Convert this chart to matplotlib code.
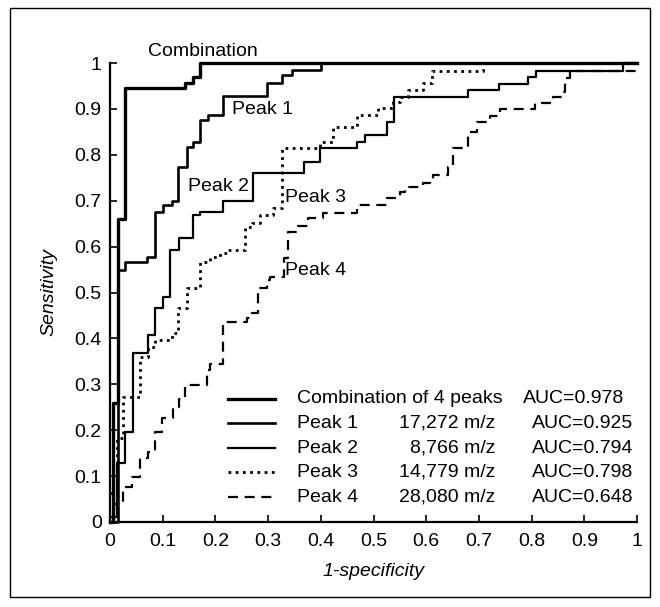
import matplotlib
matplotlib.use("Agg")
import matplotlib.pyplot as plt
from matplotlib.patches import Rectangle

plt.rcParams['font.family'] = ['Liberation Sans', 'DejaVu Sans']

# ROC step points (x = 1-specificity, y = sensitivity), value after each jump
comb_fpr = [0.0, 0.006, 0.015, 0.028, 0.142, 0.158, 0.171, 1.0]
comb_tpr = [0.0, 0.26, 0.66, 0.945, 0.956, 0.969, 1.0, 1.0]

p1_fpr = [0.0, 0.015, 0.028, 0.07, 0.085, 0.10, 0.117, 0.129, 0.146, 0.158, 0.171,
          0.186, 0.215, 0.298, 0.326, 0.345, 0.40, 1.0]
p1_tpr = [0.0, 0.549, 0.567, 0.577, 0.675, 0.69, 0.70, 0.773, 0.817, 0.828, 0.876,
          0.887, 0.928, 0.956, 0.974, 0.985, 1.0, 1.0]

p2_fpr = [0.0, 0.013, 0.028, 0.044, 0.072, 0.085, 0.10, 0.114, 0.131, 0.158, 0.171,
          0.215, 0.271, 0.368, 0.398, 0.468, 0.484, 0.525, 0.539, 0.680, 0.739,
          0.793, 0.808, 0.973, 1.0]
p2_tpr = [0.011, 0.128, 0.196, 0.368, 0.407, 0.466, 0.490, 0.593, 0.619, 0.669, 0.675,
          0.70, 0.76, 0.784, 0.815, 0.828, 0.843, 0.871, 0.926, 0.941, 0.954,
          0.969, 0.983, 1.0, 1.0]

p3_fpr = [0.0, 0.013, 0.025, 0.057, 0.072, 0.085, 0.117, 0.129, 0.146, 0.171, 0.19,
          0.209, 0.224, 0.256, 0.269, 0.285, 0.309, 0.326, 0.398, 0.423, 0.468,
          0.509, 0.537, 0.55, 0.566, 0.594, 0.611, 0.708, 1.0]
p3_tpr = [0.063, 0.183, 0.272, 0.36, 0.381, 0.397, 0.412, 0.466, 0.51, 0.567, 0.577,
          0.586, 0.593, 0.643, 0.651, 0.669, 0.684, 0.815, 0.828, 0.861, 0.887,
          0.902, 0.915, 0.926, 0.941, 0.956, 0.983, 1.0, 1.0]

p4_fpr = [0.0, 0.008, 0.025, 0.042, 0.057, 0.072, 0.085, 0.098, 0.12, 0.13, 0.142,
          0.184, 0.19, 0.215, 0.26, 0.269, 0.281, 0.298, 0.304, 0.33, 0.338, 0.357,
          0.376, 0.404, 0.468, 0.525, 0.55, 0.56, 0.594, 0.607, 0.613, 0.641, 0.651,
          0.679, 0.696, 0.721, 0.74, 0.806, 0.84, 0.857, 0.863, 0.873, 1.0]
p4_tpr = [0.0, 0.04, 0.076, 0.098, 0.139, 0.153, 0.196, 0.227, 0.25, 0.268, 0.298,
          0.331, 0.344, 0.436, 0.444, 0.455, 0.51, 0.527, 0.534, 0.575, 0.632, 0.645,
          0.662, 0.673, 0.69, 0.705, 0.719, 0.73, 0.739, 0.745, 0.756, 0.773, 0.815,
          0.85, 0.871, 0.885, 0.9, 0.913, 0.926, 0.937, 0.967, 0.983, 0.983]

legend_names = ["Combination of 4 peaks", "Peak 1", "Peak 2", "Peak 3", "Peak 4"]
legend_mz = ["", "17,272 m/z", "8,766 m/z", "14,779 m/z", "28,080 m/z"]
legend_auc = ["AUC=0.978", "AUC=0.925", "AUC=0.794", "AUC=0.798", "AUC=0.648"]

ticks = [0, 0.1, 0.2, 0.3, 0.4, 0.5, 0.6, 0.7, 0.8, 0.9, 1]
tick_labels = ["0", "0.1", "0.2", "0.3", "0.4", "0.5", "0.6", "0.7", "0.8", "0.9", "1"]

fs = 14

fig = plt.figure(figsize=(6.6, 6.07), dpi=100)
fig.patches.append(Rectangle((10 / 660, 10 / 607), 640 / 660, 589 / 607,
                             transform=fig.transFigure, fill=False,
                             edgecolor='black', linewidth=1.0))
ax = fig.add_axes([110 / 660, 85 / 607, 527 / 660, 459 / 607])

styles = [
    (comb_fpr, comb_tpr, dict(lw=2.4, ls='-')),
    (p1_fpr, p1_tpr, dict(lw=1.9, ls='-')),
    (p2_fpr, p2_tpr, dict(lw=1.6, ls='-')),
    (p3_fpr, p3_tpr, dict(lw=2.0, ls=(0, (1, 1.6)))),
    (p4_fpr, p4_tpr, dict(lw=1.6, ls=(0, (4.5, 3)))),
]
for x, y, st in styles:
    ax.plot(x, y, drawstyle='steps-post', color='black', clip_on=False, **st)

ax.set_xlim(0, 1)
ax.set_ylim(0, 1)
for side in ['top', 'right']:
    ax.spines[side].set_visible(False)
for side in ['left', 'bottom']:
    ax.spines[side].set_linewidth(1.6)
ax.set_xticks(ticks)
ax.set_xticklabels(tick_labels)
ax.set_yticks(ticks)
ax.set_yticklabels(tick_labels)
ax.tick_params(direction='in', length=5, width=1.2, labelsize=fs)
ax.tick_params(axis='x', pad=8)
ax.tick_params(axis='y', pad=6)

ax.set_xlabel('1-specificity', fontsize=fs, style='italic', labelpad=9)
ax.set_ylabel('Sensitivity', fontsize=fs, style='italic', labelpad=12)

# curve labels
ax.text(0.072, 1.025, "Combination", fontsize=fs, va='center', ha='left', clip_on=False)
ax.text(0.232, 0.898, "Peak 1", fontsize=fs, va='center', ha='left')
ax.text(0.148, 0.732, "Peak 2", fontsize=fs, va='center', ha='left')
ax.text(0.332, 0.706, "Peak 3", fontsize=fs, va='center', ha='left')
ax.text(0.332, 0.549, "Peak 4", fontsize=fs, va='center', ha='left')

# legend drawn by hand to get the three text columns
row_y = [0.268, 0.215, 0.161, 0.108, 0.054]
for i, (x, y, st) in enumerate(styles):
    ax.plot([0.224, 0.313], [row_y[i], row_y[i]], transform=ax.transAxes,
            color='black', **st)
    ax.text(0.355, row_y[i], legend_names[i], transform=ax.transAxes,
            fontsize=fs, va='center', ha='left')
    ax.text(0.731, row_y[i], legend_mz[i], transform=ax.transAxes,
            fontsize=fs, va='center', ha='right')
    ax.text(0.784 if i == 0 else 0.801, row_y[i], legend_auc[i], transform=ax.transAxes,
            fontsize=fs, va='center', ha='left')

fig.savefig('out.png', dpi=100)
